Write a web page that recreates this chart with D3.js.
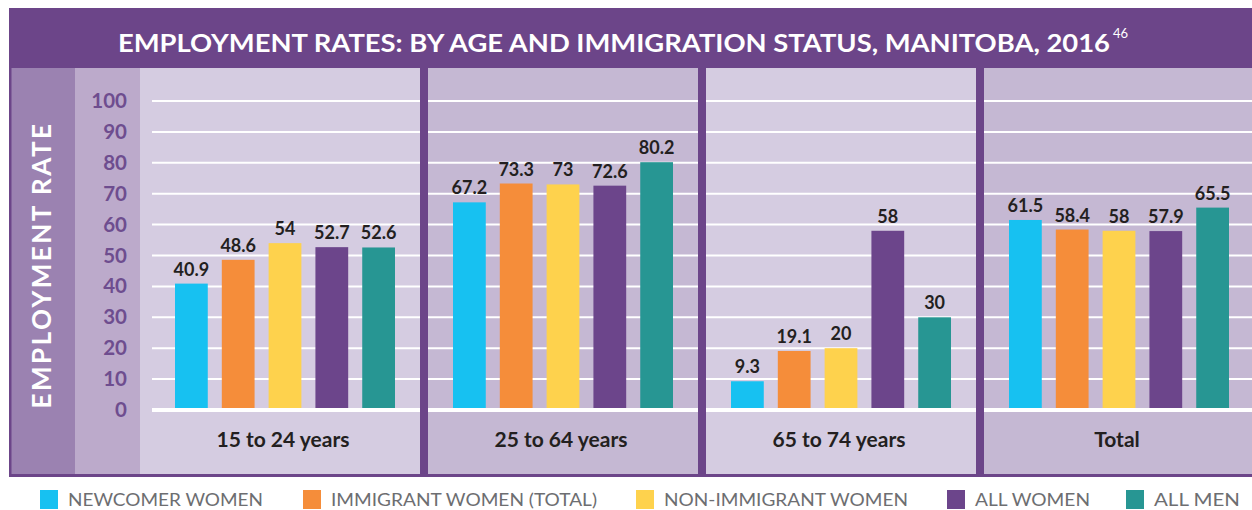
<!DOCTYPE html>
<html>
<head>
<meta charset="utf-8">
<script src="https://cdn.jsdelivr.net/npm/d3@7"></script>
<style>
  html, body { margin: 0; padding: 0; background: #fff; }
  svg { display: block; font-family: Lato, "Open Sans", sans-serif; }
</style>
</head>
<body>
<svg id="chart" width="1252" height="510"></svg>
<script>
// data
var categories = ["15 to 24 years", "25 to 64 years", "65 to 74 years", "Total"];
var seriesNames = ["NEWCOMER WOMEN", "IMMIGRANT WOMEN (TOTAL)", "NON-IMMIGRANT WOMEN", "ALL WOMEN", "ALL MEN"];
var seriesColours = ["#17c1f1", "#f58d3a", "#fed24d", "#6c458b", "#279693"];
var newcomerWomen = [40.9, 67.2, 9.3, 61.5];
var immigrantWomen = [48.6, 73.3, 19.1, 58.4];
var nonImmigrantWomen = [54, 73, 20, 58];
var allWomen = [52.7, 72.6, 58, 57.9];
var allMen = [52.6, 80.2, 30, 65.5];
var yTicks = [0, 10, 20, 30, 40, 50, 60, 70, 80, 90, 100];

var series = [newcomerWomen, immigrantWomen, nonImmigrantWomen, allWomen, allMen];

var svg = d3.select("#chart");
var purple = "#6c4589";

// scales
var x = d3.scaleBand().domain(categories).range([146, 1258]);
var xInner = d3.scaleBand().domain(d3.range(seriesNames.length)).range([29, 249]).paddingInner(0.3);
var y = d3.scaleLinear().domain([0, 100]).range([410, 101]);

var frameTop = 68, frameBottom = 474;

// frame backgrounds
svg.append("rect").attr("x", 9).attr("y", 8).attr("width", 1260).attr("height", frameTop - 8).attr("fill", purple);
svg.append("rect").attr("x", 9).attr("y", frameTop).attr("width", 66).attr("height", frameBottom - frameTop).attr("fill", "#9b82b1");
svg.append("rect").attr("x", 75).attr("y", frameTop).attr("width", 65).attr("height", frameBottom - frameTop).attr("fill", "#bcaacb");

// panels, alternating shades
svg.selectAll(".panel")
  .data(categories)
  .enter().append("rect")
  .attr("class", "panel")
  .attr("x", function(d, i) { return i === 0 ? 140 : x(d); })
  .attr("y", frameTop)
  .attr("width", function(d, i) { return i === 0 ? x(d) + x.bandwidth() - 140 : x.bandwidth(); })
  .attr("height", frameBottom - frameTop)
  .attr("fill", function(d, i) { return i % 2 === 0 ? "#d5cce1" : "#c5b8d3"; });

// gridlines
svg.selectAll(".grid")
  .data(yTicks)
  .enter().append("line")
  .attr("x1", 152).attr("x2", 1252)
  .attr("y1", function(d) { return y(d); })
  .attr("y2", function(d) { return y(d); })
  .attr("stroke", "#fff")
  .attr("stroke-width", function(d) { return d === 0 ? 4 : 2; });

// tick labels
svg.selectAll(".tick-label")
  .data(yTicks)
  .enter().append("text")
  .attr("x", 127)
  .attr("y", function(d) { return y(d) + 7; })
  .attr("text-anchor", "end")
  .attr("fill", "#6e4d8f")
  .style("font-size", "20.5px")
  .style("font-weight", 700)
  .text(function(d) { return d; });

// bars
var groups = svg.selectAll(".group")
  .data(categories)
  .enter().append("g")
  .attr("transform", function(d) { return "translate(" + x(d) + ",0)"; });

groups.selectAll("rect")
  .data(function(d, ci) { return series.map(function(s, si) { return {si: si, v: s[ci]}; }); })
  .enter().append("rect")
  .attr("x", function(d) { return xInner(d.si); })
  .attr("y", function(d) { return y(d.v); })
  .attr("width", xInner.bandwidth())
  .attr("height", function(d) { return y(0) - 2 - y(d.v); })
  .attr("fill", function(d) { return seriesColours[d.si]; });

groups.selectAll(".value")
  .data(function(d, ci) { return series.map(function(s, si) { return {si: si, v: s[ci]}; }); })
  .enter().append("text")
  .attr("x", function(d) { return xInner(d.si) + xInner.bandwidth() / 2; })
  .attr("y", function(d) { return y(d.v) - 8; })
  .attr("text-anchor", "middle")
  .attr("fill", "#231f20")
  .style("font-size", "18px")
  .style("font-weight", 700)
  .text(function(d) { return d.v; });

// category labels
svg.selectAll(".cat")
  .data(categories)
  .enter().append("text")
  .attr("x", function(d) { return x(d) + x.bandwidth() / 2 - 2; })
  .attr("y", 447)
  .attr("text-anchor", "middle")
  .attr("fill", "#231f20")
  .style("font-size", "21px")
  .style("font-weight", 700)
  .text(function(d) { return d; });

// dividers between panels
svg.selectAll(".divider")
  .data(categories.slice(1))
  .enter().append("rect")
  .attr("x", function(d) { return x(d) - 4; })
  .attr("y", frameTop)
  .attr("width", 8)
  .attr("height", frameBottom - frameTop)
  .attr("fill", purple);

// frame borders
svg.append("rect").attr("x", 9).attr("y", frameTop).attr("width", 2.5).attr("height", frameBottom - frameTop).attr("fill", purple);
svg.append("rect").attr("x", 9).attr("y", frameBottom).attr("width", 1260).attr("height", 3).attr("fill", purple);

// title
svg.append("text")
  .attr("x", 118)
  .attr("y", 52)
  .attr("fill", "#fff")
  .style("font-size", "24px")
  .style("font-weight", 700)
  .attr("textLength", 992)
  .attr("lengthAdjust", "spacingAndGlyphs")
  .text("EMPLOYMENT RATES: BY AGE AND IMMIGRATION STATUS, MANITOBA, 2016");
svg.append("text")
  .attr("x", 1113)
  .attr("y", 38)
  .attr("fill", "#fff")
  .style("font-size", "13px")
  .text("46");

// axis title
svg.append("text")
  .attr("transform", "translate(51,265) rotate(-90)")
  .attr("text-anchor", "middle")
  .attr("fill", "#fff")
  .style("font-size", "26px")
  .style("font-weight", 700)
  .style("letter-spacing", "2.5px")
  .text("EMPLOYMENT RATE");

// legend
var legendX = [40, 303, 636, 947, 1126];
var legendW = [195, 266, 244, 115, 86];
var legend = svg.selectAll(".legend")
  .data(seriesNames)
  .enter().append("g")
  .attr("transform", function(d, i) { return "translate(" + legendX[i] + ",490)"; });
legend.append("rect")
  .attr("width", 18).attr("height", 19)
  .attr("fill", function(d, i) { return seriesColours[i]; });
legend.append("text")
  .attr("x", 28)
  .attr("y", 16)
  .attr("fill", "#6d6e71")
  .style("font-size", "17.5px")
  .attr("textLength", function(d, i) { return legendW[i]; })
  .attr("lengthAdjust", "spacingAndGlyphs")
  .text(function(d) { return d; });
</script>
</body>
</html>
